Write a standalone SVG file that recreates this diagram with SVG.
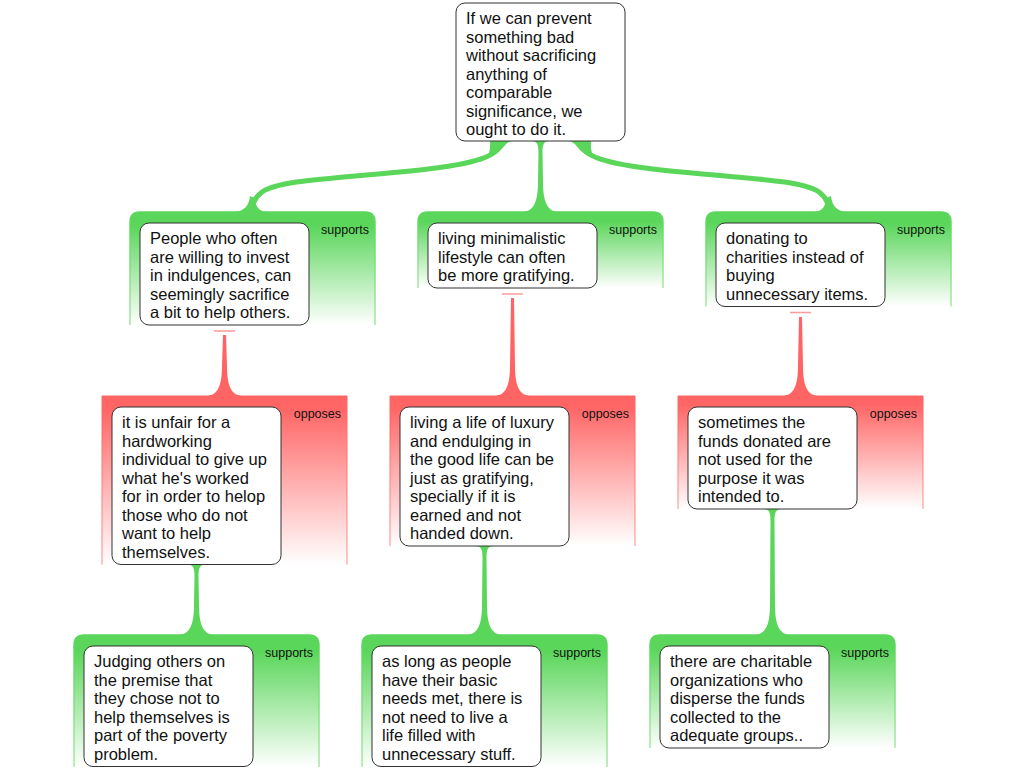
<svg xmlns="http://www.w3.org/2000/svg" width="1024" height="768" viewBox="0 0 1024 768">
<defs>
<linearGradient id="gG" x1="0" y1="0" x2="0" y2="1">
<stop offset="0" stop-color="#5ad65a"/><stop offset="0.12" stop-color="#5ad65a"/><stop offset="1" stop-color="#ffffff"/>
</linearGradient>
<linearGradient id="gR" x1="0" y1="0" x2="0" y2="1">
<stop offset="0" stop-color="#ff6464"/><stop offset="0.08" stop-color="#ff6666"/><stop offset="1" stop-color="#ffffff"/>
</linearGradient>
<linearGradient id="sG" x1="0" y1="0" x2="0" y2="1">
<stop offset="0" stop-color="#5ad65a"/><stop offset="1" stop-color="#a6e8a6"/>
</linearGradient>
<linearGradient id="sR" x1="0" y1="0" x2="0" y2="1">
<stop offset="0" stop-color="#ff6464"/><stop offset="1" stop-color="#ff8c8c"/>
</linearGradient>
</defs>
<style>
.pg{fill:url(#gG)}
.pr{fill:url(#gR)}
.sg{fill:none;stroke:url(#sG);stroke-width:1.5}
.sr{fill:none;stroke:url(#sR);stroke-width:1}
.box{fill:#fff;stroke:#333;stroke-width:1}
.t{font-family:'Liberation Sans',Arial,Helvetica,sans-serif;font-size:16.5px;fill:#111}
.lbl{font-family:'Liberation Sans',Arial,Helvetica,sans-serif;font-size:12.5px;fill:#111;text-anchor:end}
.cg{fill:#5ad65a}
.cgs{fill:none;stroke:#5ad65a;stroke-width:5}
.cr{fill:#ff6464}
.bar{stroke:#ff9a9a;stroke-width:1.5}
</style>

<g id="connectors">
<path class="cgs" d="M501,141 C501,156 475,164 420,170 C330,179 280,180 262,192 C254,198 252.5,204 252.5,212"/>
<path class="cg" d="M489,141 L512,141 C505,142 503,150 496,154 C491,156.5 486,156.5 481,156.5 L480,161.5 C486,160 491,155 490,141 Z"/>
<path class="cg" d="M250,196 C249,206 244,212 232,212 L268,212 C260,212 255,207 255,198 Z"/>
<path class="cgs" d="M580,141 C580,156 606,164 661,170 C751,179 801,180 819,192 C827,198 828.5,204 828.5,212"/>
<path class="cg" d="M592,141 L569,141 C576,142 578,150 585,154 C590,156.5 595,156.5 600,156.5 L601,161.5 C595,160 590,155 591,141 Z"/>
<path class="cg" d="M831,196 C832,206 837,212 849,212 L813,212 C821,212 826,207 826,198 Z"/>
<path class="cg" d="M531.5,141 C537.5,141 538.5,145 538.5,153 L538,182 C538,204 532.5,212 521.5,212 L559.5,212 C548.5,212 543,204 543,182 L542.5,153 C542.5,145 543.5,141 549.5,141 Z"/>
<line class="bar" x1="214" y1="331" x2="235" y2="331"/>
<path class="cr" d="M223,335 L222,366 C222,388 216.5,396 205.5,396 L243.5,396 C232.5,396 227,388 227,366 L226,335 Z"/>
<line class="bar" x1="502" y1="294" x2="523" y2="294"/>
<path class="cr" d="M511,298 L510,366 C510,388 504.5,396 493.5,396 L531.5,396 C520.5,396 515,388 515,366 L514,298 Z"/>
<line class="bar" x1="790" y1="312.5" x2="811" y2="312.5"/>
<path class="cr" d="M799,317 L798,366 C798,388 792.5,396 781.5,396 L819.5,396 C808.5,396 803,388 803,366 L802,317 Z"/>
<path class="cg" d="M187.5,564.5 C193.5,564.5 194.5,568.5 194.5,576.5 L194,605 C194,627 188.5,635 177.5,635 L215.5,635 C204.5,635 199,627 199,605 L198.5,576.5 C198.5,568.5 199.5,564.5 205.5,564.5 Z"/>
<path class="cg" d="M475.5,546 C481.5,546 482.5,550 482.5,558 L482,605 C482,627 476.5,635 465.5,635 L503.5,635 C492.5,635 487,627 487,605 L486.5,558 C486.5,550 487.5,546 493.5,546 Z"/>
<path class="cg" d="M763.5,509 C769.5,509 770.5,513 770.5,521 L770,605 C770,627 764.5,635 753.5,635 L791.5,635 C780.5,635 775,627 775,605 L774.5,521 C774.5,513 775.5,509 781.5,509 Z"/>
</g>

<g id="n0">
<rect class="box" x="456" y="3" width="169" height="138" rx="9"/>
<text class="t"><tspan x="466" y="24">If we can prevent</tspan><tspan x="466" y="42.5">something bad</tspan><tspan x="466" y="61">without sacrificing</tspan><tspan x="466" y="79.5">anything of</tspan><tspan x="466" y="98">comparable</tspan><tspan x="466" y="116.5">significance, we</tspan><tspan x="466" y="135">ought to do it.</tspan></text>
</g>

<g id="n1">
<path class="pg" d="M130,325 V222 Q130,212 140,212 H365 Q375,212 375,222 V325 Z"/>
<path class="sg" d="M130,325 V222 Q130,212 140,212 H365 Q375,212 375,222 V325"/>
<text class="lbl" x="369" y="233.5">supports</text>
<rect class="box" x="140" y="223" width="169" height="102" rx="9"/>
<text class="t"><tspan x="150" y="244">People who often</tspan><tspan x="150" y="262.5">are willing to invest</tspan><tspan x="150" y="281">in indulgences, can</tspan><tspan x="150" y="299.5">seemingly sacrifice</tspan><tspan x="150" y="318">a bit to help others.</tspan></text>
</g>

<g id="n2">
<path class="pg" d="M418,288 V222 Q418,212 428,212 H653 Q663,212 663,222 V288 Z"/>
<path class="sg" d="M418,288 V222 Q418,212 428,212 H653 Q663,212 663,222 V288"/>
<text class="lbl" x="657" y="233.5">supports</text>
<rect class="box" x="428" y="223" width="169" height="65" rx="9"/>
<text class="t"><tspan x="438" y="244">living minimalistic</tspan><tspan x="438" y="262.5">lifestyle can often</tspan><tspan x="438" y="281">be more gratifying.</tspan></text>
</g>

<g id="n3">
<path class="pg" d="M706,306.5 V222 Q706,212 716,212 H941 Q951,212 951,222 V306.5 Z"/>
<path class="sg" d="M706,306.5 V222 Q706,212 716,212 H941 Q951,212 951,222 V306.5"/>
<text class="lbl" x="945" y="233.5">supports</text>
<rect class="box" x="716" y="223" width="169" height="83.5" rx="9"/>
<text class="t"><tspan x="726" y="244">donating to</tspan><tspan x="726" y="262.5">charities instead of</tspan><tspan x="726" y="281">buying</tspan><tspan x="726" y="299.5">unnecessary items.</tspan></text>
</g>

<g id="n4">
<rect class="pr" x="102" y="396" width="245" height="168.5"/>
<path class="sr" d="M102,564.5 V396 H347 V564.5"/>
<text class="lbl" x="341" y="417.5">opposes</text>
<rect class="box" x="112" y="407" width="169" height="157.5" rx="9"/>
<text class="t"><tspan x="122" y="428">it is unfair for a</tspan><tspan x="122" y="446.5">hardworking</tspan><tspan x="122" y="465">individual to give up</tspan><tspan x="122" y="483.5">what he's worked</tspan><tspan x="122" y="502">for in order to helop</tspan><tspan x="122" y="520.5">those who do not</tspan><tspan x="122" y="539">want to help</tspan><tspan x="122" y="557.5">themselves.</tspan></text>
</g>

<g id="n5">
<rect class="pr" x="390" y="396" width="245" height="150"/>
<path class="sr" d="M390,546 V396 H635 V546"/>
<text class="lbl" x="629" y="417.5">opposes</text>
<rect class="box" x="400" y="407" width="169" height="139" rx="9"/>
<text class="t"><tspan x="410" y="428">living a life of luxury</tspan><tspan x="410" y="446.5">and endulging in</tspan><tspan x="410" y="465">the good life can be</tspan><tspan x="410" y="483.5">just as gratifying,</tspan><tspan x="410" y="502">specially if it is</tspan><tspan x="410" y="520.5">earned and not</tspan><tspan x="410" y="539">handed down.</tspan></text>
</g>

<g id="n6">
<rect class="pr" x="678" y="396" width="245" height="113"/>
<path class="sr" d="M678,509 V396 H923 V509"/>
<text class="lbl" x="917" y="417.5">opposes</text>
<rect class="box" x="688" y="407" width="169" height="102" rx="9"/>
<text class="t"><tspan x="698" y="428">sometimes the</tspan><tspan x="698" y="446.5">funds donated are</tspan><tspan x="698" y="465">not used for the</tspan><tspan x="698" y="483.5">purpose it was</tspan><tspan x="698" y="502">intended to.</tspan></text>
</g>

<g id="n7">
<path class="pg" d="M74,767 V645 Q74,635 84,635 H309 Q319,635 319,645 V767 Z"/>
<path class="sg" d="M74,767 V645 Q74,635 84,635 H309 Q319,635 319,645 V767"/>
<text class="lbl" x="313" y="656.5">supports</text>
<rect class="box" x="84" y="646" width="169" height="120.5" rx="9"/>
<text class="t"><tspan x="94" y="667">Judging others on</tspan><tspan x="94" y="685.5">the premise that</tspan><tspan x="94" y="704">they chose not to</tspan><tspan x="94" y="722.5">help themselves is</tspan><tspan x="94" y="741">part of the poverty</tspan><tspan x="94" y="759.5">problem.</tspan></text>
</g>

<g id="n8">
<path class="pg" d="M362,767 V645 Q362,635 372,635 H597 Q607,635 607,645 V767 Z"/>
<path class="sg" d="M362,767 V645 Q362,635 372,635 H597 Q607,635 607,645 V767"/>
<text class="lbl" x="601" y="656.5">supports</text>
<rect class="box" x="372" y="646" width="169" height="120.5" rx="9"/>
<text class="t"><tspan x="382" y="667">as long as people</tspan><tspan x="382" y="685.5">have their basic</tspan><tspan x="382" y="704">needs met, there is</tspan><tspan x="382" y="722.5">not need to live a</tspan><tspan x="382" y="741">life filled with</tspan><tspan x="382" y="759.5">unnecessary stuff.</tspan></text>
</g>

<g id="n9">
<path class="pg" d="M650,748 V645 Q650,635 660,635 H885 Q895,635 895,645 V748 Z"/>
<path class="sg" d="M650,748 V645 Q650,635 660,635 H885 Q895,635 895,645 V748"/>
<text class="lbl" x="889" y="656.5">supports</text>
<rect class="box" x="660" y="646" width="169" height="102" rx="9"/>
<text class="t"><tspan x="670" y="667">there are charitable</tspan><tspan x="670" y="685.5">organizations who</tspan><tspan x="670" y="704">disperse the funds</tspan><tspan x="670" y="722.5">collected to the</tspan><tspan x="670" y="741">adequate groups..</tspan></text>
</g>
</svg>
